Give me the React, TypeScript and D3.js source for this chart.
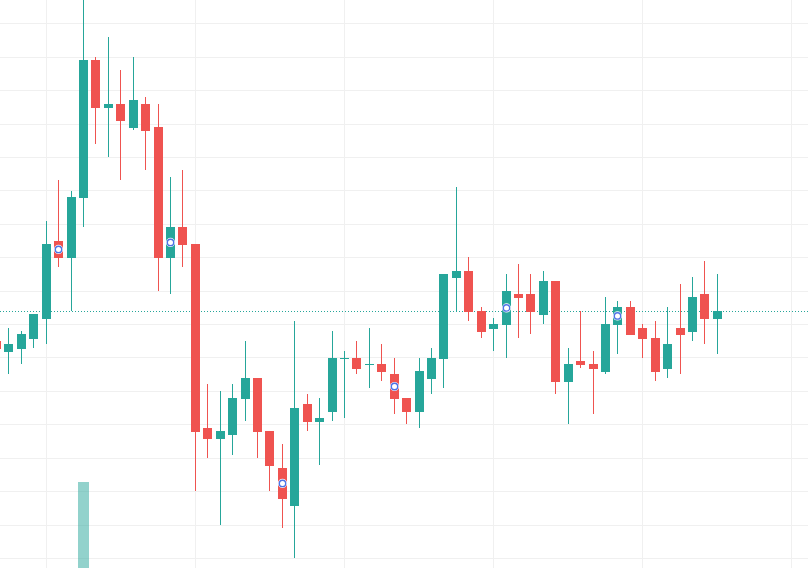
import React, { useRef, useEffect } from "react";
import * as d3 from "d3";

// OHLC, one entry per bar
const opens = [
  132.46, 130.86, 131.27, 132.81, 135.8, 147.42, 144.92, 153.9, 174.5, 167.36,
  167.92, 164.37, 167.92, 164.48, 144.92, 149.52, 146.97, 119.45, 117.8, 118.4,
  123.79, 126.93, 119.0, 113.46, 107.82, 123.04, 120.39, 121.89, 129.77, 129.92,
  128.92, 129.02, 127.53, 123.94, 121.89, 126.82, 129.82, 141.93, 142.94, 136.95,
  134.3, 134.9, 139.49, 139.49, 136.4, 141.44, 126.37, 129.47, 129.02, 127.87,
  134.9, 137.55, 134.41, 132.91, 128.32, 134.41, 133.85, 139.49, 135.8,
];
const highs = [
  133.21, 134.41, 133.96, 136.5, 150.42, 156.55, 154.9, 184.22, 174.95, 177.94,
  173.0, 174.95, 168.97, 167.92, 157.0, 158.04, 146.97, 126.03, 124.98, 126.03,
  132.46, 126.93, 119.0, 117.05, 135.46, 124.53, 123.94, 133.96, 130.97, 132.46,
  134.41, 132.01, 129.92, 123.94, 129.92, 131.42, 142.49, 155.5, 145.03, 137.55,
  135.9, 142.49, 143.98, 142.49, 142.94, 141.44, 131.42, 136.95, 130.97, 139.05,
  138.45, 138.45, 135.01, 135.46, 137.55, 140.99, 142.04, 144.43, 142.49,
];
const lows = [
  130.67, 127.53, 129.07, 131.46, 132.06, 143.58, 136.95, 149.56, 161.98, 160.03,
  156.55, 164.07, 158.04, 139.94, 139.49, 143.58, 110.07, 114.96, 104.94, 115.41,
  120.5, 114.96, 110.02, 104.53, 100.04, 119.04, 113.96, 120.54, 120.99, 127.57,
  125.48, 126.52, 121.59, 120.09, 119.49, 124.58, 125.48, 136.95, 135.5, 132.96,
  131.01, 129.96, 132.96, 133.56, 135.05, 124.58, 120.09, 128.47, 121.59, 127.57,
  130.56, 133.41, 129.96, 126.52, 126.97, 127.57, 132.51, 132.06, 130.56,
];
const closes = [
  131.27, 132.01, 133.51, 136.5, 146.97, 144.92, 154.01, 174.5, 167.36, 167.92,
  165.42, 168.52, 163.92, 144.92, 149.52, 146.87, 118.89, 117.8, 119.0, 123.94,
  126.93, 118.89, 113.81, 108.87, 122.44, 120.39, 120.94, 129.92, 129.92, 128.27,
  129.07, 127.87, 123.79, 121.89, 127.98, 129.92, 142.49, 142.94, 136.85, 133.85,
  135.01, 139.94, 138.94, 136.85, 141.44, 126.37, 129.02, 128.92, 128.32, 135.01,
  137.55, 133.41, 132.81, 127.87, 132.01, 133.41, 139.05, 135.8, 136.95,
];
// only the spike bar reaches into view
const volumes = [
  18, 14, 16, 20, 31, 26, 29, 100, 34, 22,
  19, 17, 15, 30, 24, 18, 35, 21, 23, 17,
  15, 20, 22, 25, 33, 14, 12, 19, 10, 11,
  9, 10, 13, 12, 16, 12, 28, 30, 22, 14,
  11, 16, 12, 13, 12, 27, 15, 10, 12, 17,
  13, 14, 11, 15, 12, 10, 16, 13, 12,
];
const markerBars = [5, 14, 23, 32, 41, 50];
const priceTicks = d3.range(100, 181, 5);
const timeTicks = [4, 16, 28, 40, 52, 64];

const UP = "#26a69a";
const DOWN = "#ef5350";

const CandleChart: React.FC = () => {
  const svgRef = useRef<SVGSVGElement | null>(null);

  useEffect(() => {
    const width = 808;
    const height = 568;

    const svg = d3.select(svgRef.current);
    svg.selectAll("*").remove();
    svg.attr("width", width).attr("height", height);

    const bars = opens.map((o, i) => ({
      i,
      o,
      h: highs[i],
      l: lows[i],
      c: closes[i],
      v: volumes[i],
    }));

    const x = d3.scaleLinear().domain([0, 64]).range([-3.57, 791.95]);
    const y = d3.scaleLinear().domain([100, 180]).range([558, 23.3]);
    const vy = d3.scaleLinear().domain([0, 100]).range([620, 482]);
    const px = (i: number) => Math.floor(x(i));

    svg.append("rect").attr("width", width).attr("height", height).attr("fill", "#ffffff");

    // grid
    svg
      .append("g")
      .selectAll("line")
      .data(priceTicks)
      .join("line")
      .attr("x1", 0)
      .attr("x2", width)
      .attr("y1", (d) => Math.round(y(d)) + 0.5)
      .attr("y2", (d) => Math.round(y(d)) + 0.5)
      .attr("stroke", "#f0f0f0")
      .attr("stroke-width", 1);

    svg
      .append("g")
      .selectAll("line")
      .data(timeTicks)
      .join("line")
      .attr("x1", (d) => px(d) + 0.5)
      .attr("x2", (d) => px(d) + 0.5)
      .attr("y1", 0)
      .attr("y2", height)
      .attr("stroke", "#f0f0f0")
      .attr("stroke-width", 1);

    // volume
    svg
      .append("g")
      .selectAll("rect")
      .data(bars)
      .join("rect")
      .attr("x", (d) => px(d.i) - 5)
      .attr("width", 11)
      .attr("y", (d) => Math.round(vy(d.v)))
      .attr("height", (d) => Math.max(0, vy(0) - Math.round(vy(d.v))))
      .attr("fill", (d) => (d.c >= d.o ? UP : DOWN))
      .attr("fill-opacity", 0.5);

    // last price line
    const last = bars[bars.length - 1];
    svg
      .append("line")
      .attr("x1", 0)
      .attr("x2", width)
      .attr("y1", Math.round(y(last.c)) + 0.5)
      .attr("y2", Math.round(y(last.c)) + 0.5)
      .attr("stroke", last.c >= last.o ? UP : DOWN)
      .attr("stroke-width", 1)
      .attr("stroke-dasharray", "1 2");

    // candles
    const candles = svg.append("g").selectAll("g").data(bars).join("g");

    candles
      .append("rect")
      .attr("x", (d) => px(d.i))
      .attr("width", 1)
      .attr("y", (d) => Math.round(y(d.h)))
      .attr("height", (d) => Math.max(1, Math.round(y(d.l)) - Math.round(y(d.h))))
      .attr("fill", (d) => (d.c >= d.o ? UP : DOWN));

    candles
      .append("rect")
      .attr("x", (d) => px(d.i) - 4)
      .attr("width", 9)
      .attr("y", (d) => Math.round(y(Math.max(d.o, d.c))))
      .attr("height", (d) =>
        Math.max(1, Math.round(y(Math.min(d.o, d.c))) - Math.round(y(Math.max(d.o, d.c))))
      )
      .attr("fill", (d) => (d.c >= d.o ? UP : DOWN));

    // markers
    const marks = svg
      .append("g")
      .selectAll("g")
      .data(markerBars.map((i) => bars[i]))
      .join("g")
      .attr("transform", (d) => `translate(${px(d.i) + 0.5},${y((d.o + d.c) / 2)})`);

    marks.append("circle").attr("r", 4.6).attr("fill", "#ffffff");
    marks
      .append("circle")
      .attr("r", 3.2)
      .attr("fill", "#ffffff")
      .attr("stroke", "#4d73e6")
      .attr("stroke-width", 1.4);
  }, []);

  return (
    <svg
      ref={svgRef}
      style={{ position: "fixed", left: 0, top: 0, display: "block" }}
    ></svg>
  );
};

export default function App() {
  return <CandleChart />;
}
